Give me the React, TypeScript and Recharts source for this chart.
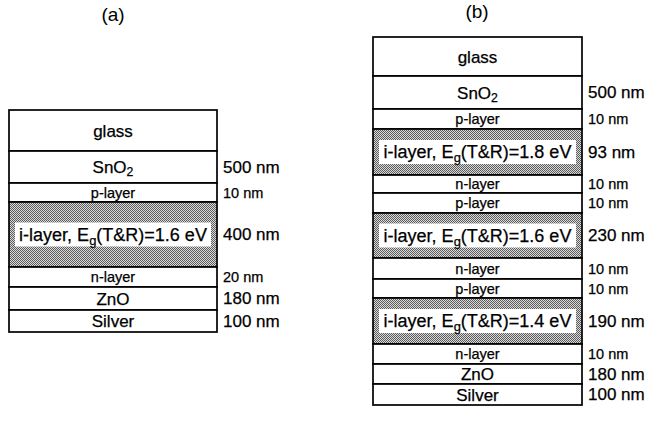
import React from 'react';
import { BarChart, Bar, XAxis, YAxis } from 'recharts';

// layer stacks, top to bottom
const namesA = ['glass', 'SnO_2', 'p-layer', 'i-layer, E_g(T&R)=1.6 eV', 'n-layer', 'ZnO', 'Silver'];
const thickA = ['', '500 nm', '10 nm', '400 nm', '20 nm', '180 nm', '100 nm'];
const rowsA = [41, 32, 19, 65, 20, 23, 22];

const namesB = [
  'glass', 'SnO_2', 'p-layer', 'i-layer, E_g(T&R)=1.8 eV', 'n-layer', 'p-layer',
  'i-layer, E_g(T&R)=1.6 eV', 'n-layer', 'p-layer', 'i-layer, E_g(T&R)=1.4 eV',
  'n-layer', 'ZnO', 'Silver',
];
const thickB = ['', '500 nm', '10 nm', '93 nm', '10 nm', '10 nm', '230 nm', '10 nm', '10 nm', '190 nm', '10 nm', '180 nm', '100 nm'];
const rowsB = [39, 33, 20, 46, 18, 20, 45, 21, 19, 46, 20, 20, 21];

const FONT = '"Liberation Sans", Arial, sans-serif';

// "SnO_2" -> SnO with subscript 2
const richText = (s: string, size: number) => {
  const parts: React.ReactNode[] = [];
  let buf = '';
  let shifted = false;
  for (let i = 0; i < s.length; i++) {
    if (s[i] === '_' && i + 1 < s.length) {
      if (buf) parts.push(<tspan key={parts.length} dy={shifted ? -5 : 0}>{buf}</tspan>);
      parts.push(<tspan key={parts.length} dy={5} fontSize={size * 0.72}>{s[i + 1]}</tspan>);
      buf = '';
      shifted = true;
      i++;
    } else {
      buf += s[i];
    }
  }
  if (buf) parts.push(<tspan key={parts.length} dy={shifted ? -5 : 0}>{buf}</tspan>);
  return parts;
};

const kindOf = (name: string) =>
  name.startsWith('i-layer') ? 'i' : name.endsWith('-layer') ? 'thin' : 'big';

const makeShape = (name: string, thick: string, pid: string) => (props: any) => {
  const { x, y, width, height } = props;
  const top = Math.min(y, y + height);
  const h = Math.abs(height);
  const cy = top + h / 2;
  const kind = kindOf(name);
  const nameSize = kind === 'i' ? 18 : kind === 'thin' ? 14.5 : 17;
  const thickSize = thick.startsWith('10 ') || thick.startsWith('20 ') ? 14.5 : 17;
  return (
    <g>
      <rect x={x} y={top} width={width} height={h}
        fill={kind === 'i' ? `url(#${pid})` : '#fff'} stroke="#000" strokeWidth={1.7} />
      {kind === 'i' && (
        <rect x={x + 6} y={cy - 12} width={width - 12} height={24} fill="#fff" />
      )}
      <text x={x + width / 2} y={cy} textAnchor="middle" dominantBaseline="central"
        fontSize={nameSize} fontFamily={FONT} fill="#000" stroke="#000" strokeWidth={0.25}>
        {richText(name, nameSize)}
      </text>
      {thick && (
        <text x={x + width + 6} y={cy} dominantBaseline="central"
          fontSize={thickSize} fontFamily={FONT} fill="#000" stroke="#000" strokeWidth={0.25}>
          {thick}
        </text>
      )}
    </g>
  );
};

interface StackProps {
  names: string[];
  thick: string[];
  rows: number[];
  pid: string;
  width: number;
  margin: { top: number; right: number; bottom: number; left: number };
}

const Stack: React.FC<StackProps> = ({ names, thick, rows, pid, width, margin }) => {
  const row: Record<string, any> = { name: 'stack' };
  rows.forEach((v, i) => { row[`L${i}`] = v; });
  const total = rows.reduce((a, b) => a + b, 0);
  return (
    <BarChart width={width} height={426} data={[row]} margin={margin} barCategoryGap={0}>
      <defs>
        <pattern id={pid} width={2} height={2} patternUnits="userSpaceOnUse">
          <rect width={2} height={2} fill="#dadada" />
          <rect width={1} height={1} fill="#5c5c5c" />
          <rect x={1} y={1} width={1} height={1} fill="#5c5c5c" />
        </pattern>
      </defs>
      <XAxis dataKey="name" hide />
      <YAxis type="number" domain={[0, total]} reversed hide width={0} />
      {names.map((n, i) => (
        <Bar key={i} dataKey={`L${i}`} stackId="s" isAnimationActive={false}
          shape={makeShape(n, thick[i], pid)} />
      ))}
    </BarChart>
  );
};

export default function App() {
  return (
    <div style={{ position: 'absolute', left: 0, top: 0, width: 647, height: 426, background: '#fff', fontFamily: FONT }}>
      <div style={{ position: 'absolute', left: 63, width: 100, top: 4, textAlign: 'center', fontSize: 19 }}>(a)</div>
      <div style={{ position: 'absolute', left: 427, width: 100, top: 1, textAlign: 'center', fontSize: 19 }}>(b)</div>
      <div style={{ position: 'absolute', left: 0, top: 0 }}>
        <Stack names={namesA} thick={thickA} rows={rowsA} pid="stipA" width={320}
          margin={{ top: 110, right: 103, bottom: 94, left: 9 }} />
      </div>
      <div style={{ position: 'absolute', left: 320, top: 0 }}>
        <Stack names={namesB} thick={thickB} rows={rowsB} pid="stipB" width={327}
          margin={{ top: 37, right: 65, bottom: 21, left: 53 }} />
      </div>
    </div>
  );
}
